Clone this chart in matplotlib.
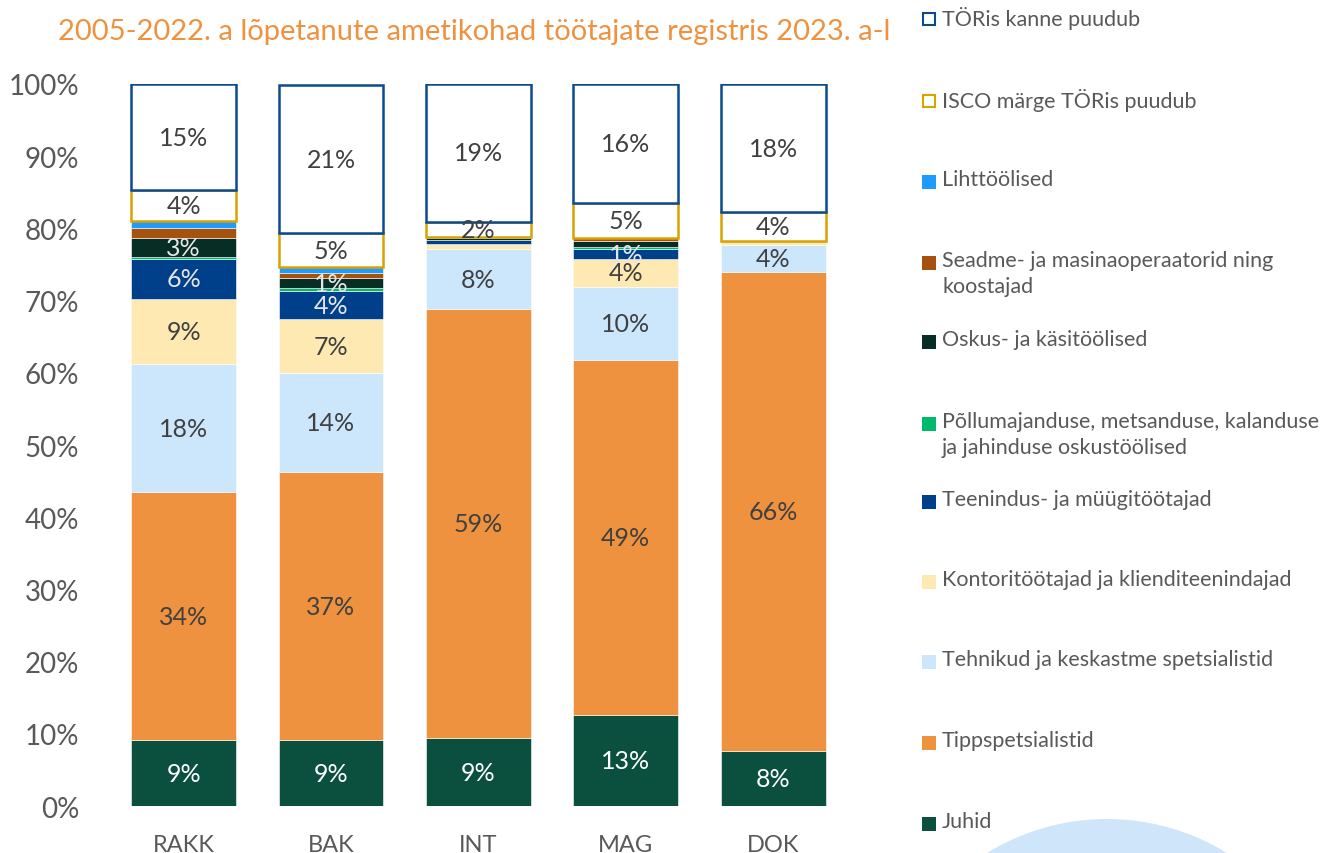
import numpy as np
import matplotlib
matplotlib.use("Agg")
import matplotlib.pyplot as plt
from matplotlib.patches import Rectangle, Ellipse

plt.rcParams['font.family'] = ['Lato', 'DejaVu Sans']

categories = ["RAKK", "BAK", "INT", "MAG", "DOK"]

# bottom to top
series = ["Juhid", "Tippspetsialistid", "Tehnikud ja keskastme spetsialistid",
          "Kontoritöötajad ja klienditeenindajad", "Teenindus- ja müügitöötajad",
          "Põllumajanduse, metsanduse, kalanduse\nja jahinduse oskustöölised",
          "Oskus- ja käsitöölised", "Seadme- ja masinaoperaatorid ning\nkoostajad",
          "Lihttöölised", "ISCO märge TÖRis puudub", "TÖRis kanne puudub"]

juhid     = [9.1, 9.1, 9.4, 12.6, 7.6]
tipps     = [34.4, 37.1, 59.4, 49.2, 66.4]
tehnikud  = [17.7, 13.8, 8.3, 10.1, 3.7]
kontor    = [9.0, 7.4, 0.8, 3.9, 0.4]
teenindus = [5.6, 3.9, 0.5, 1.3, 0.05]
pollu     = [0.2, 0.4, 0.05, 0.3, 0.0]
oskus     = [2.6, 1.4, 0.15, 0.8, 0.05]
seadme    = [1.4, 0.7, 0.1, 0.4, 0.05]
liht      = [1.0, 0.8, 0.1, 0.1, 0.05]
isco      = [4.3, 4.7, 2.1, 4.8, 3.9]
tor       = [14.7, 20.6, 19.1, 16.5, 17.8]

values = [juhid, tipps, tehnikud, kontor, teenindus, pollu, oskus, seadme, liht, isco, tor]

# which segments carry a data label
show_label = [
    [1, 1, 1, 1, 1],
    [1, 1, 1, 1, 1],
    [1, 1, 1, 1, 1],
    [1, 1, 0, 1, 0],
    [1, 1, 0, 1, 0],
    [0, 0, 0, 0, 0],
    [1, 1, 0, 0, 0],
    [0, 0, 0, 0, 0],
    [0, 0, 0, 0, 0],
    [1, 1, 1, 1, 1],
    [1, 1, 1, 1, 1],
]

face = ["#0b4f3f", "#ef923f", "#cce6fb", "#fee9b2", "#003f8a", "#00b96b",
        "#062e24", "#a5520f", "#1e9bff", "white", "white"]
edge = [None] * 9 + ["#d9a300", "#0b4a8f"]
label_col = ["white", "#404040", "#404040", "#404040", "#e6e6e6", "white",
             "#e6e6e6", "white", "white", "#404040", "#404040"]

fig = plt.figure(figsize=(13.4, 8.54), dpi=100)
ax = fig.add_axes([0.082, 0.055, 0.55, 0.8455])

x = np.arange(len(categories))
bottom = np.zeros(len(categories))
for i, vals in enumerate(values):
    vals = np.array(vals)
    if edge[i]:
        ax.bar(x, vals, 0.71, bottom=bottom, color=face[i], edgecolor=edge[i], linewidth=1.8, zorder=2)
    else:
        ax.bar(x, vals, 0.71, bottom=bottom, color=face[i], edgecolor="white", linewidth=0.4, zorder=2)
    for j in range(len(categories)):
        if show_label[i][j]:
            ax.text(x[j], bottom[j] + vals[j] / 2, f"{round(vals[j])}%", ha="center", va="center",
                    fontsize=18, color=label_col[i], zorder=3)
    bottom += vals

ax.set_xlim(-0.5, len(categories) - 0.5)
ax.set_ylim(0, 100)
ax.set_yticks(np.arange(0, 101, 10))
ax.set_yticklabels([f"{v}%" for v in range(0, 101, 10)])
ax.set_xticks(x)
ax.set_xticklabels(categories)
ax.tick_params(axis="y", length=0, pad=22, labelsize=20, labelcolor="#595959")
ax.tick_params(axis="x", length=0, pad=20, labelsize=17, labelcolor="#595959")
for s in ax.spines.values():
    s.set_visible(False)

fig.text(0.043, 0.962, "2005-2022. a lõpetanute ametikohad töötajate registris 2023. a-l",
         fontsize=21, color="#ef923f", ha="left", va="center")

# legend, top to bottom
leg_y = [20, 102, 183, 264, 343, 425, 503, 583, 663, 744, 825]
for k, yy in enumerate(leg_y):
    i = len(series) - 1 - k
    yc = 1 - yy / 854
    if edge[i]:
        fig.patches.append(Rectangle((923 / 1340, yc - 6 / 854), 12 / 1340, 12 / 854,
                                     transform=fig.transFigure, facecolor="white",
                                     edgecolor=edge[i], linewidth=1.5))
    else:
        fig.patches.append(Rectangle((922 / 1340, yc - 7 / 854), 14 / 1340, 14 / 854,
                                     transform=fig.transFigure, facecolor=face[i], edgecolor="none"))
    fig.text(942 / 1340, yc + 13 / 854, series[i], fontsize=15.5, color="#595959",
             ha="left", va="top", linespacing=1.4)

fig.patches.append(Ellipse((1107 / 1340, 1 - 1049 / 854), 458 / 1340, 458 / 854,
                           transform=fig.transFigure, facecolor="#cfe6fa", edgecolor="none",
                           zorder=0))

fig.savefig("out.png", dpi=100)
